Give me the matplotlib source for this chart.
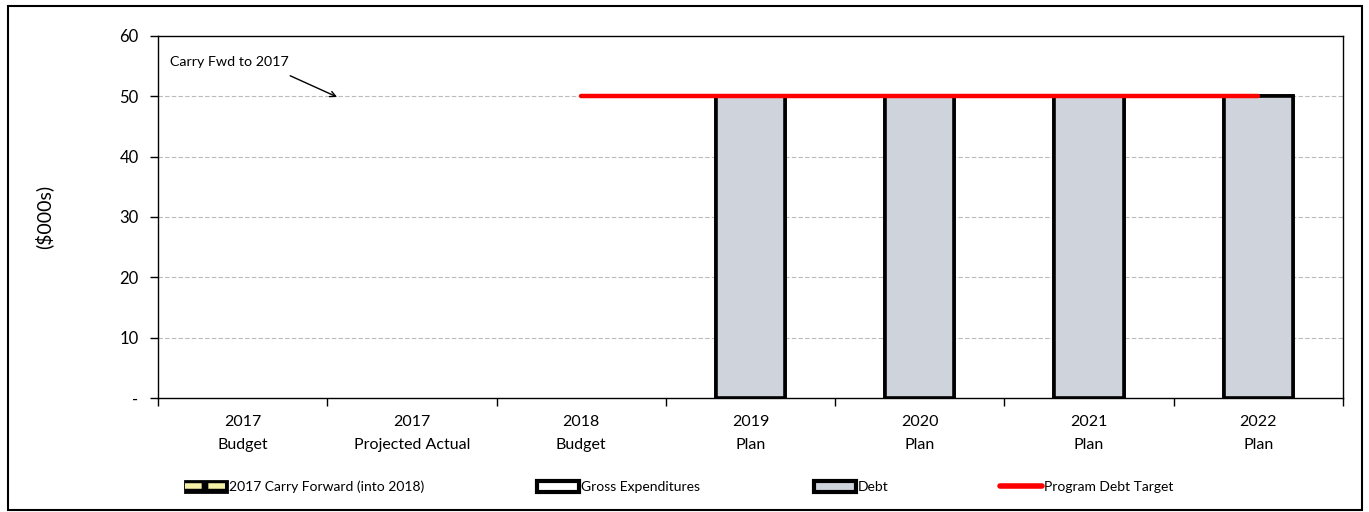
import numpy as np
import matplotlib
matplotlib.use("Agg")
import matplotlib.pyplot as plt
from matplotlib.patches import Patch, Rectangle
from matplotlib.lines import Line2D
from matplotlib.legend_handler import HandlerTuple

narrow = ["Lato", "DejaVu Sans"]
regular = ["Lato", "DejaVu Sans"]

categories = ["2017\nBudget", "2017\nProjected Actual", "2018\nBudget",
              "2019\nPlan", "2020\nPlan", "2021\nPlan", "2022\nPlan"]
carry_forward = [0, 0, 0, 0, 0, 0, 0]
gross_exp = [0, 0, 0, 50, 50, 50, 50]
debt = [0, 0, 0, 50, 50, 50, 50]
debt_target = [np.nan, np.nan, 50, 50, 50, 50, 50]
y_ticks = [0, 10, 20, 30, 40, 50, 60]
y_labels = ["-", "10", "20", "30", "40", "50", "60"]

fig = plt.figure(figsize=(13.69, 5.12), dpi=100)
ax = fig.add_axes([0.1154, 0.2227, 0.8656, 0.707])

x = np.arange(len(categories))
w = 0.41

# only draw bars that have a value
g = np.array(gross_exp, dtype=float)
d = np.array(debt, dtype=float)
m = g > 0
ax.bar(x[m], g[m], width=w, color="white", edgecolor="black", linewidth=2.6, zorder=2)
m = d > 0
ax.bar(x[m], d[m], width=w, color="#CFD3DB", edgecolor="black", linewidth=2.6, zorder=3)

ax.plot(x, debt_target, color="#FF0000", linewidth=3.2, solid_capstyle="round", zorder=4)

ax.set_xlim(-0.5, len(categories) - 0.5)
ax.set_ylim(0, 60)
ax.set_yticks(y_ticks)
ax.set_yticklabels(y_labels, fontfamily=regular, fontsize=12)
ax.set_xticks(x)
ax.set_xticklabels(categories, fontfamily=narrow, fontsize=11.5, linespacing=1.85)
ax.set_xticks(np.arange(len(categories) + 1) - 0.5, minor=True)
ax.tick_params(axis="x", which="major", length=0, pad=12)
ax.tick_params(axis="x", which="minor", length=6, direction="out", width=1)
ax.tick_params(axis="y", length=6, direction="out", width=1, pad=8)

for yv in y_ticks[1:-1]:
    ax.axhline(yv, color="#BBBBBB", linewidth=0.8, linestyle=(0, (4, 2)), zorder=1)

for s in ax.spines.values():
    s.set_linewidth(1.0)
    s.set_color("black")

ax.set_ylabel("($000s)", fontfamily=regular, fontsize=14)
ax.yaxis.set_label_coords(-0.088, 0.5)

# annotation
ax.text(-0.43, 55.7, "Carry Fwd to 2017", fontfamily=narrow, fontsize=10.3, va="center", ha="left")
ax.annotate("", xy=(0.573, 49.7), xytext=(0.266, 53.6),
            arrowprops=dict(arrowstyle="->", color="black", lw=1.0))

# legend entries placed like the original
cf_handle = (Patch(facecolor="black", edgecolor="black", linewidth=2),
             Line2D([], [], color="#F5F0A8", linewidth=4, linestyle=(0, (3, 1.2))))
entries = [
    (cf_handle, "2017 Carry Forward (into 2018)", 0.1351),
    (Patch(facecolor="white", edgecolor="black", linewidth=3), "Gross Expenditures", 0.3923),
    (Patch(facecolor="#CFD3DB", edgecolor="black", linewidth=3), "Debt", 0.5946),
    (Line2D([], [], color="#FF0000", linewidth=4, solid_capstyle="round"), "Program Debt Target", 0.7305),
]
for h, lab, xp in entries:
    leg = fig.legend([h], [lab], loc="center left", bbox_to_anchor=(xp, 0.0488),
                     frameon=False, borderpad=0, borderaxespad=0, handlelength=3.0,
                     handleheight=0.8, handletextpad=0.15,
                     prop={"family": narrow, "size": 10},
                     handler_map={tuple: HandlerTuple(ndivide=1, pad=0)})

fig.patches.append(Rectangle((0.0058, 0.004), 0.9892, 0.984, transform=fig.transFigure,
                             fill=False, edgecolor="black", linewidth=1.5))

fig.savefig("out.png", dpi=100)
